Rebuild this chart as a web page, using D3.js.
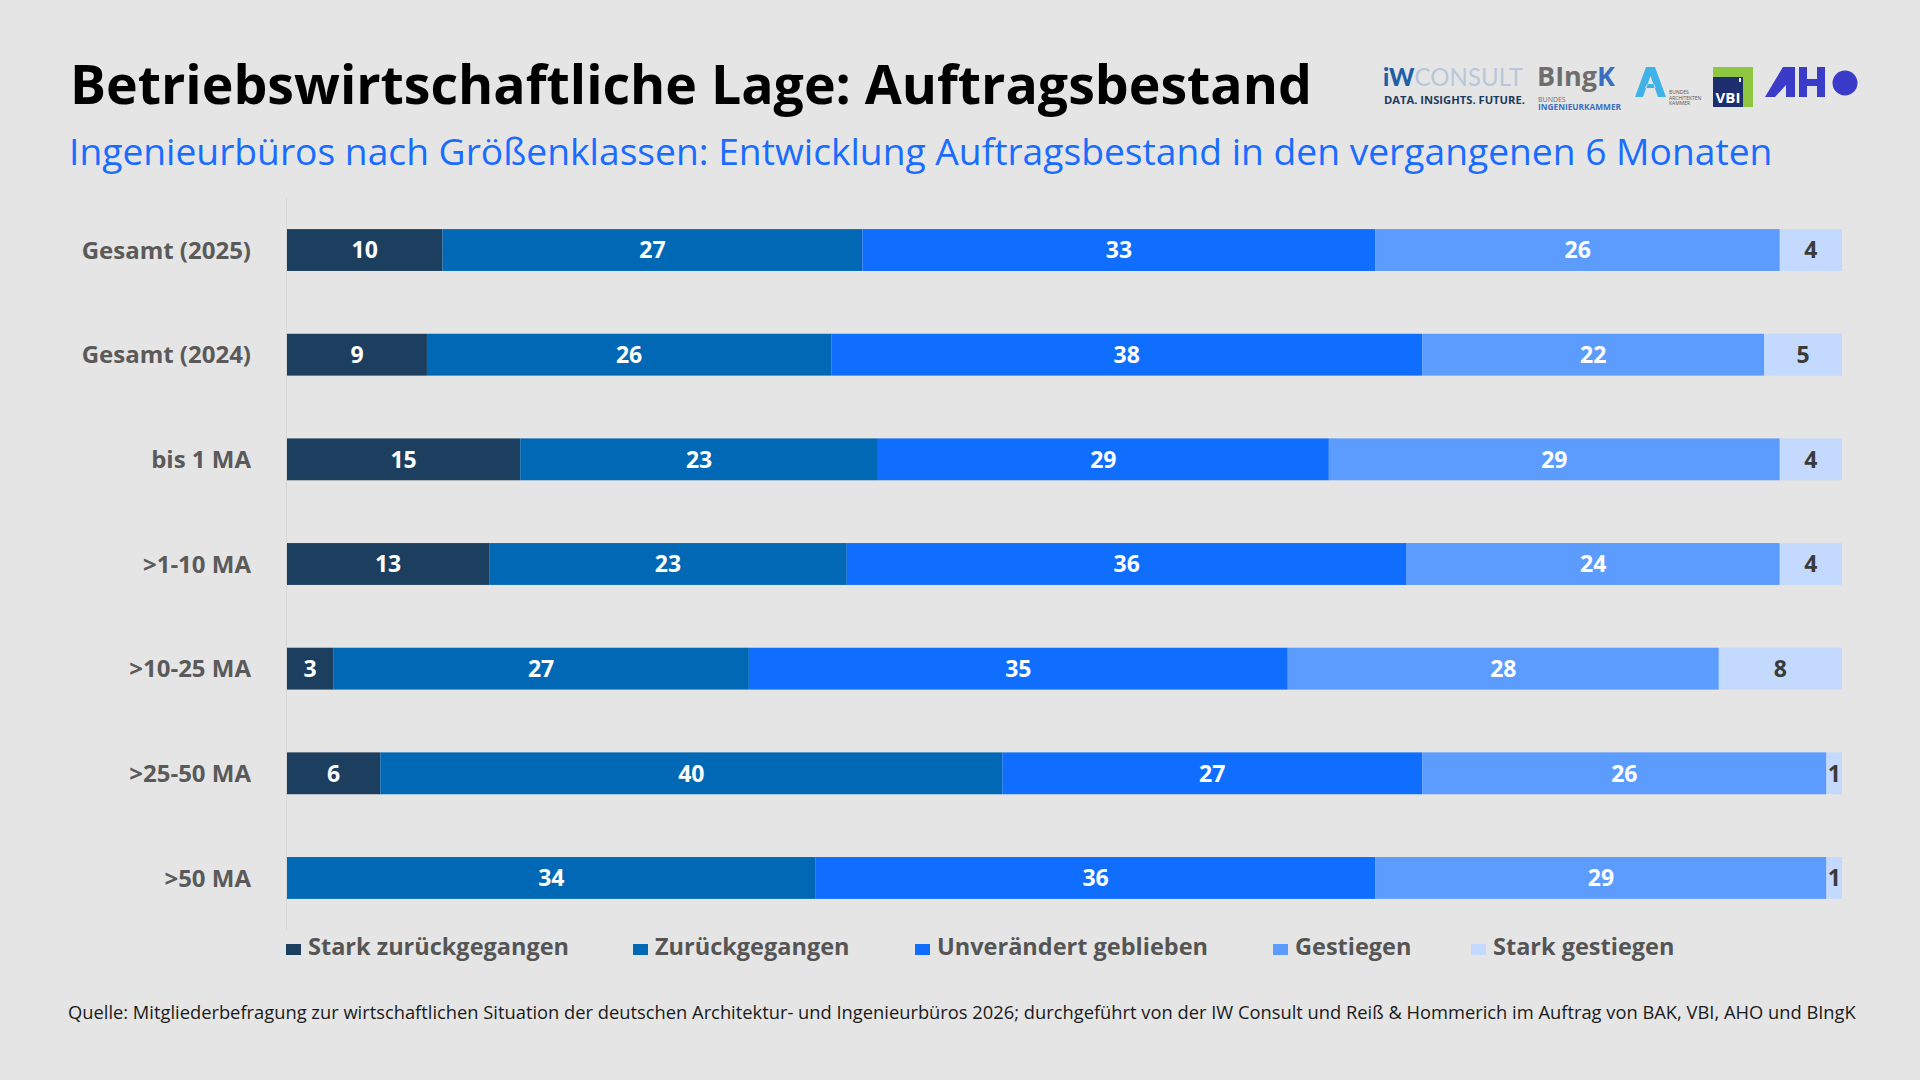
<!DOCTYPE html>
<html>
<head>
<meta charset="utf-8">
<script src="https://cdn.jsdelivr.net/npm/d3@7"></script>
<style>
  html, body { margin: 0; padding: 0; background: #e5e5e5; }
  svg { display: block; font-family: "Open Sans", sans-serif; }
</style>
</head>
<body>
<svg id="chart" width="1920" height="1080"></svg>
<script>
// data (percent of offices)
var categories = ['Gesamt (2025)', 'Gesamt (2024)', 'bis 1 MA', '>1-10 MA', '>10-25 MA', '>25-50 MA', '>50 MA'];
var seriesNames = ['Stark zurückgegangen', 'Zurückgegangen', 'Unverändert geblieben', 'Gestiegen', 'Stark gestiegen'];
var starkZurueck   = [10,  9, 15, 13,  3,  6,  0];
var zurueck        = [27, 26, 23, 23, 27, 40, 34];
var unveraendert   = [33, 38, 29, 36, 35, 27, 36];
var gestiegen      = [26, 22, 29, 24, 28, 26, 29];
var starkGestiegen = [ 4,  5,  4,  4,  8,  1,  1];
var seriesColors = ['#1d3f5f', '#0068b5', '#0f6efd', '#5c9cff', '#c3dafe'];

var title = 'Betriebswirtschaftliche Lage: Auftragsbestand';
var subtitle = 'Ingenieurbüros nach Größenklassen: Entwicklung Auftragsbestand in den vergangenen 6 Monaten';
var source = 'Quelle: Mitgliederbefragung zur wirtschaftlichen Situation der deutschen Architektur- und Ingenieurbüros 2026; durchgeführt von der IW Consult und Reiß & Hommerich im Auftrag von BAK, VBI, AHO und BIngK';

var svg = d3.select('#chart');

// scale font so a text line gets the wanted width
function fitWidth(sel, width) {
  var size = parseFloat(sel.attr('font-size'));
  var len = sel.node().getComputedTextLength();
  sel.attr('font-size', (size * width / len).toFixed(2));
}

// header
svg.append('text')
  .attr('x', 70).attr('y', 104)
  .attr('font-size', 50).attr('font-weight', 700).attr('fill', '#000')
  .text(title)
  .call(fitWidth, 1242);

svg.append('text')
  .attr('x', 69).attr('y', 165)
  .attr('font-size', 35).attr('fill', '#1a6cff')
  .text(subtitle)
  .call(fitWidth, 1704);

// build rows for the stack
var rows = categories.map(function(c, i) {
  var r = {category: c};
  r[seriesNames[0]] = starkZurueck[i];
  r[seriesNames[1]] = zurueck[i];
  r[seriesNames[2]] = unveraendert[i];
  r[seriesNames[3]] = gestiegen[i];
  r[seriesNames[4]] = starkGestiegen[i];
  return r;
});

var stack = d3.stack().keys(seriesNames).offset(d3.stackOffsetExpand);
var layers = stack(rows);

var x = d3.scaleLinear().domain([0, 1]).range([287, 1842]);
var y = d3.scaleBand().domain(categories).range([197.7, 930.3])
  .paddingInner(0.6).paddingOuter(0.3);
var color = d3.scaleOrdinal().domain(seriesNames).range(seriesColors);

// thin axis line
svg.append('line')
  .attr('x1', 286.5).attr('x2', 286.5)
  .attr('y1', y.range()[0]).attr('y2', y.range()[1])
  .attr('stroke', '#d6d6d6').attr('stroke-width', 1);

var layer = svg.selectAll('g.layer')
  .data(layers)
  .enter()
  .append('g')
  .attr('class', 'layer')
  .attr('fill', function(d) { return color(d.key); });

layer.selectAll('rect')
  .data(function(d) { return d; })
  .enter()
  .append('rect')
  .attr('x', function(d) { return x(d[0]); })
  .attr('y', function(d) { return y(d.data.category); })
  .attr('width', function(d) { return Math.max(0, x(d[1]) - x(d[0])); })
  .attr('height', y.bandwidth());

layer.selectAll('text')
  .data(function(d) {
    return d.map(function(s) { return {seg: s, key: d.key}; })
      .filter(function(o) { return o.seg.data[o.key] > 0; });
  })
  .enter()
  .append('text')
  .attr('x', function(o) { return (x(o.seg[0]) + x(o.seg[1])) / 2; })
  .attr('y', function(o) { return y(o.seg.data.category) + y.bandwidth() / 2; })
  .attr('dy', '0.36em')
  .attr('text-anchor', 'middle')
  .attr('font-size', 23).attr('font-weight', 700)
  .attr('fill', function(o) { return o.key === seriesNames[4] ? '#3a3a3a' : '#fff'; })
  .text(function(o) { return o.seg.data[o.key]; });

// category labels
svg.append('g').selectAll('text')
  .data(categories)
  .enter()
  .append('text')
  .attr('x', 251)
  .attr('y', function(d) { return y(d) + y.bandwidth() / 2; })
  .attr('dy', '0.36em')
  .attr('text-anchor', 'end')
  .attr('font-size', 24).attr('font-weight', 700)
  .attr('fill', '#5a5a5a')
  .text(function(d) { return d; });

// legend
var legendX = [286, 633, 915, 1273, 1471];
var legend = svg.append('g').selectAll('g')
  .data(seriesNames)
  .enter()
  .append('g')
  .attr('transform', function(d, i) { return 'translate(' + legendX[i] + ',955)'; });
legend.append('rect')
  .attr('x', 0).attr('y', -11).attr('width', 15).attr('height', 11)
  .attr('fill', function(d) { return color(d); });
legend.append('text')
  .attr('x', 22)
  .attr('font-size', 23.5).attr('font-weight', 700)
  .attr('fill', '#555')
  .text(function(d) { return d; });

// source line
svg.append('text')
  .attr('x', 68).attr('y', 1019)
  .attr('font-size', 17).attr('fill', '#1a1a1a')
  .text(source)
  .call(fitWidth, 1788);

// logos, drawn roughly
var logos = svg.append('g');
var iw = logos.append('text').attr('x', 1383).attr('y', 86)
  .attr('font-size', 23).attr('font-family', 'Lato, sans-serif');
iw.append('tspan').attr('font-weight', 900).attr('fill', '#1f5fa8').text('iW');
iw.append('tspan').attr('fill', '#b9c7db').text('CONSULT');
iw.call(fitWidth, 140);
logos.append('text').attr('x', 1384).attr('y', 104)
  .attr('font-size', 11).attr('font-weight', 700).attr('fill', '#1c3a5e')
  .text('DATA. INSIGHTS. FUTURE.')
  .call(fitWidth, 141);

// BIngK mark: word on top, two small lines under it (kept clear of each other)
var bi = logos.append('text').attr('x', 1537).attr('y', 86)
  .attr('font-size', 27).attr('font-weight', 700);
bi.append('tspan').attr('fill', '#6e6e6e').text('BIng');
bi.append('tspan').attr('fill', '#3a6fc0').text('K');
logos.append('text').attr('x', 1538).attr('y', 101.5)
  .attr('font-size', 7).attr('fill', '#6e6e6e').text('BUNDES');
logos.append('text').attr('x', 1538).attr('y', 109.5)
  .attr('font-size', 8.3).attr('font-weight', 700).attr('fill', '#3a6fc0')
  .text('INGENIEURKAMMER');

logos.append('path')
  .attr('d', 'M1635,97 L1646,67 L1655,67 L1666,97 L1658,97 L1650.5,76 L1643,97 Z M1645,88 L1656,88 L1654,84 L1647,84 Z')
  .attr('fill', '#3fb3e8');
['BUNDES', 'ARCHITEKTEN', 'KAMMER'].forEach(function(t, i) {
  logos.append('text').attr('x', 1669).attr('y', 94 + i * 5.5)
    .attr('font-size', 5).attr('fill', '#555').text(t);
});

logos.append('rect').attr('x', 1713).attr('y', 67).attr('width', 40).attr('height', 40).attr('fill', '#8dc63f');
logos.append('rect').attr('x', 1713).attr('y', 77).attr('width', 30).attr('height', 30).attr('fill', '#1c2e6e');
logos.append('rect').attr('x', 1739).attr('y', 78).attr('width', 2).attr('height', 4).attr('fill', '#fff');
logos.append('text').attr('x', 1728).attr('y', 103).attr('text-anchor', 'middle')
  .attr('font-size', 15).attr('font-weight', 700).attr('fill', '#fff').text('VBI');

var aho = logos.append('g').attr('fill', '#3b3bc9');
aho.append('path').attr('d', 'M1765,97 L1783,67 L1795,67 L1795,97 Z');
aho.append('path').attr('d', 'M1775,97 L1786,97 L1786,85 Z').attr('fill', '#e5e5e5');
aho.append('rect').attr('x', 1799).attr('y', 67).attr('width', 8).attr('height', 30);
aho.append('rect').attr('x', 1807).attr('y', 79).attr('width', 10).attr('height', 7);
aho.append('rect').attr('x', 1817).attr('y', 67).attr('width', 8).attr('height', 30);
aho.append('circle').attr('cx', 1845).attr('cy', 83).attr('r', 12.5);
</script>
</body>
</html>
